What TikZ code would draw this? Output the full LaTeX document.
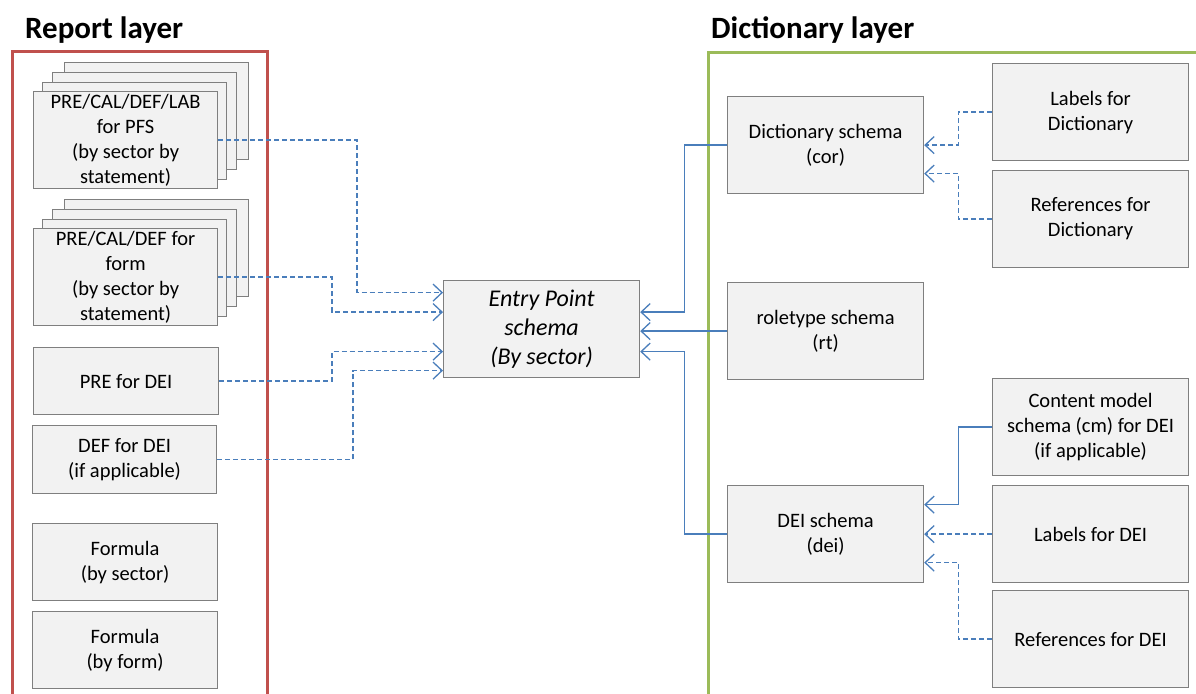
\documentclass[tikz,border=0pt]{standalone}
\usepackage{fontspec}
\setmainfont{Carlito}
\usetikzlibrary{arrows.meta}
\definecolor{boxfill}{HTML}{F2F2F2}
\definecolor{boxline}{HTML}{7F7F7F}
\definecolor{connblue}{HTML}{4A7EBB}
\definecolor{redline}{HTML}{C0504D}
\definecolor{greenline}{HTML}{9BBB59}
\tikzset{
  box/.style={draw=boxline, fill=boxfill, line width=1.2pt, anchor=north west, inner sep=0pt,
    align=center, font=\fontsize{20.5}{25}\selectfont, text=black},
  sz/.style 2 args={minimum width=#1pt, minimum height=#2pt},
  solidconn/.style={draw=connblue, line width=1.3pt, -{Straight Barb[length=9pt,width=17pt]}},
  dashconn/.style={solidconn, dash pattern=on 5pt off 3pt},
  layertitle/.style={font=\fontsize{31}{36}\selectfont\bfseries, anchor=base west, inner sep=0pt},
  frame/.style={line width=3pt},
}
\begin{document}
\begin{tikzpicture}[x=1pt,y=-1pt]
\useasboundingbox (0,0) rectangle (1196,693);
\clip (0,0) rectangle (1196,693);
% layer frames
\draw[frame, draw=redline] (12,720) -- (12,52) -- (267,52) -- (267,720);
\draw[frame, draw=greenline] (708,720) -- (708,53) -- (1220,53);
\node[layertitle] (t1) at (25,38) {Report layer};
\node[layertitle] (t2) at (711,38) {Dictionary layer};
% report layer stacks
\node[box, sz={184}{97}] (s1d) at (64,62) {};
\node[box, sz={184}{97}] (s1c) at (52,72) {};
\node[box, sz={184}{97}] (s1b) at (42,82) {};
\node[box, sz={184}{97}] (s1) at (33,91) {PRE/CAL/DEF/LAB\\for PFS\\(by sector by\\statement)};
\node[box, sz={184}{97}] (s2d) at (64,199) {};
\node[box, sz={184}{97}] (s2c) at (52,209) {};
\node[box, sz={184}{97}] (s2b) at (42,219) {};
\node[box, sz={184}{97}] (s2) at (33,228) {PRE/CAL/DEF for\\form\\(by sector by\\statement)};
\node[box, sz={185}{67}] (pre) at (33,347) {PRE for DEI};
\node[box, sz={184}{68}] (def) at (32,425) {DEF for DEI\\(if applicable)};
\node[box, sz={185}{77}] (f1) at (32,523) {Formula\\(by sector)};
\node[box, sz={185}{77}] (f2) at (32,611) {Formula\\(by form)};
% entry point
\node[box, sz={196}{97}, font=\fontsize{24}{29}\selectfont\itshape] (ep) at (443,280) {Entry Point\\schema\\(By sector)};
% dictionary layer
\node[box, sz={196}{97}] (dict) at (727,96) {Dictionary schema\\(cor)};
\node[box, sz={196}{97}] (rt) at (727,282) {roletype schema\\(rt)};
\node[box, sz={196}{97}] (dei) at (727,485) {DEI schema\\(dei)};
\node[box, sz={196}{97}] (ld) at (992,63) {Labels for\\Dictionary};
\node[box, sz={196}{97}] (rd) at (992,170) {References for\\Dictionary};
\node[box, sz={196}{97}] (cm) at (992,378) {Content model\\schema (cm) for DEI\\(if applicable)};
\node[box, sz={196}{97}] (ldei) at (992,485) {Labels for DEI};
\node[box, sz={196}{97}] (rdei) at (992,590) {References for DEI};
% connectors into entry point (left)
\draw[dashconn] (s1.east) -| ([xshift=-86pt,yshift=36.5pt]ep.west) -- ([yshift=36.5pt]ep.west);
\draw[dashconn] (s2.east) -| ([xshift=-111pt,yshift=17pt]ep.west) -- ([yshift=17pt]ep.west);
\draw[dashconn] (pre.east) -| ([xshift=-111pt,yshift=-22.5pt]ep.west) -- ([yshift=-22.5pt]ep.west);
\draw[dashconn] (def.east) -| ([xshift=-90pt,yshift=-41.5pt]ep.west) -- ([yshift=-41.5pt]ep.west);
% connectors into entry point (right)
\draw[solidconn] (dict.west) -| ([xshift=44pt,yshift=17pt]ep.east) -- ([yshift=17pt]ep.east);
\draw[solidconn] (rt.west) -- (rt.west -| ep.east);
\draw[solidconn] (dei.west) -| ([xshift=44pt,yshift=-22.5pt]ep.east) -- ([yshift=-22.5pt]ep.east);
% connectors into dictionary schema
\draw[dashconn] (ld.west) -| ([xshift=34pt]dict.east) -- (dict.east);
\draw[dashconn] (rd.west) -| ([xshift=34pt,yshift=-28.5pt]dict.east) -- ([yshift=-28.5pt]dict.east);
% connectors into DEI schema
\draw[solidconn] (cm.west) -| ([xshift=34pt,yshift=29.5pt]dei.east) -- ([yshift=29.5pt]dei.east);
\draw[dashconn] (ldei.west) -- (ldei.west -| dei.east);
\draw[dashconn] (rdei.west) -| ([xshift=34pt,yshift=-28.5pt]dei.east) -- ([yshift=-28.5pt]dei.east);
\end{tikzpicture}
\end{document}
